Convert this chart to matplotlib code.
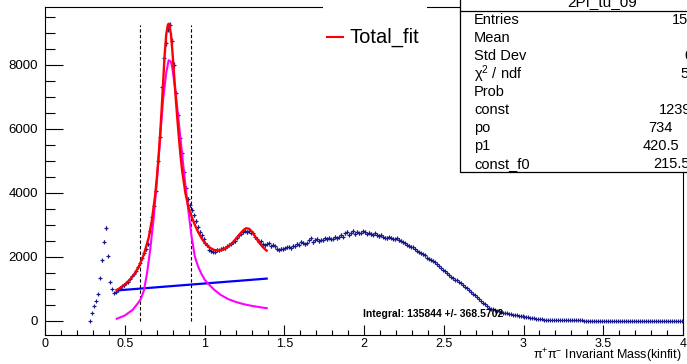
import numpy as np
import matplotlib
matplotlib.use("Agg")
import matplotlib.pyplot as plt
from matplotlib.patches import Rectangle
from matplotlib.lines import Line2D

plt.rcParams['font.family'] = ['Liberation Sans', 'DejaVu Sans']
plt.rcParams['mathtext.fontset'] = 'custom'
plt.rcParams['mathtext.rm'] = 'Liberation Sans'
plt.rcParams['mathtext.it'] = 'Liberation Sans'

# ---------------- data ----------------
bin_first_edge = 0.275
bin_width = 0.0125
counts = [
    10, 260, 470, 640, 850, 1350, 1900, 2480, 2900, 2030,
    1230, 1000, 880, 920, 960, 1030, 1080, 1110, 1180, 1230,
    1320, 1400, 1480, 1560, 1700, 1820, 1960, 2120, 2250, 2400,
    2800, 3250, 3600, 4050, 5000, 5750, 7300, 8220, 8700, 9130,
    9260, 8750, 7990, 7110, 6440, 5710, 5240, 4650, 4150, 3800,
    3620, 3470, 3300, 3120, 2950, 2790, 2680, 2560, 2430, 2360,
    2220, 2180, 2160, 2170, 2230, 2210, 2250, 2280, 2270, 2330,
    2380, 2420, 2470, 2500, 2600, 2690, 2730, 2790, 2820, 2780,
    2800, 2760, 2740, 2620, 2570, 2480, 2490, 2400, 2370, 2410,
    2430, 2340, 2380, 2330, 2250, 2220, 2260, 2250, 2270, 2300,
    2320, 2280, 2350, 2330, 2420, 2380, 2480, 2440, 2400, 2430,
    2520, 2580, 2460, 2530, 2560, 2500, 2540, 2520, 2580, 2560,
    2600, 2550, 2570, 2630, 2580, 2620, 2690, 2640, 2740, 2790,
    2700, 2760, 2810, 2720, 2790, 2740, 2760, 2800, 2780, 2730,
    2760, 2720, 2700, 2740, 2690, 2660, 2690, 2640, 2600, 2590,
    2620, 2600, 2570, 2550, 2580, 2530, 2510, 2460, 2430, 2380,
    2350, 2320, 2300, 2260, 2190, 2150, 2120, 2080, 2050, 1980,
    1950, 1920, 1880, 1830, 1770, 1720, 1660, 1600, 1550, 1490,
    1430, 1380, 1330, 1290, 1270, 1220, 1180, 1120, 1070, 1020,
    980, 900, 850, 800, 760, 700, 610, 560, 520, 480,
    420, 390, 360, 330, 310, 300, 280, 260, 250, 240,
    225, 210, 200, 195, 185, 170, 160, 150, 140, 125,
    115, 100, 90, 80, 72, 65, 58, 52, 46, 42,
    38, 35, 32, 30, 28, 26, 25, 24, 22, 21,
    20, 20, 19, 18, 18, 17, 16, 16, 15, 15,
    14, 14, 13, 13, 12, 12, 12, 11, 11, 10,
    10, 10, 9, 9, 9, 8, 8, 8, 7, 7,
    7, 7, 6, 6, 6, 6, 5, 5, 5, 5,
    4, 4, 4, 4, 4, 3, 3, 3, 3, 3,
    3, 2, 2, 2, 2, 2, 2, 1,
]

# total fit (red)
fit_x = [0.45, 0.47, 0.50, 0.53, 0.56, 0.59, 0.62, 0.65, 0.67, 0.69, 0.70,
         0.71, 0.72, 0.73, 0.74, 0.75, 0.76, 0.77, 0.775, 0.78, 0.79, 0.80,
         0.81, 0.82, 0.83, 0.84, 0.85, 0.86, 0.88, 0.90, 0.92, 0.94, 0.96,
         0.98, 1.00, 1.03, 1.06, 1.09, 1.12, 1.15, 1.18, 1.21, 1.24, 1.26,
         1.28, 1.30, 1.32, 1.34, 1.36, 1.38, 1.39]
fit_total = [970, 1030, 1140, 1280, 1460, 1720, 2080, 2600, 3150, 3900, 4400,
             5000, 5700, 6500, 7400, 8300, 8950, 9250, 9290, 9250, 8950, 8350,
             7650, 6950, 6300, 5700, 5150, 4700, 4000, 3550, 3250, 3000, 2780,
             2600, 2450, 2300, 2220, 2200, 2240, 2330, 2470, 2650, 2820, 2900,
             2880, 2780, 2620, 2470, 2340, 2240, 2200]

# signal component (magenta)
sig_x = [0.45, 0.50, 0.55, 0.58, 0.60, 0.62, 0.64, 0.66, 0.68, 0.70, 0.72,
         0.74, 0.76, 0.775, 0.79, 0.80, 0.82, 0.84, 0.86, 0.88, 0.90, 0.92,
         0.94, 0.96, 0.98, 1.00, 1.02, 1.06, 1.10, 1.15, 1.20, 1.25, 1.30,
         1.35, 1.39]
sig_y = [70, 170, 350, 540, 680, 950, 1500, 2250, 3150, 4300, 5600,
         6900, 7750, 8150, 8100, 7850, 7100, 6150, 5200, 4250, 3400, 2600,
         2000, 1700, 1480, 1300, 1180, 980, 820, 680, 590, 520, 470,
         430, 400]

# linear background (blue)
bkg_x = [0.45, 1.39]
bkg_y = [955, 1325]

# integration window (dashed)
window_x = [0.596, 0.918]
window_top = 9250

stats_labels = ["Entries", "Mean", "Std Dev", r"$\mathrm{\chi^{2}}$ / ndf", "Prob",
                "const", "po", "p1", "const_f0"]
stats_values = ["15", "", "0", "5", "", "1239", "734", "420.5", "215.5"]

# ---------------- figure ----------------
W, H = 687, 364
fig = plt.figure(figsize=(W / 100, H / 100), dpi=100)

def fx(px):
    return px / W

def fy(py):
    return 1 - py / H

ax_l, ax_r, ax_t, ax_b = 45, 683, 7, 335
ax = fig.add_axes([fx(ax_l), fy(ax_b), (ax_r - ax_l) / W, (ax_b - ax_t) / H])

counts_arr = np.array(counts, dtype=float)
centers = bin_first_edge + bin_width * (np.arange(len(counts)) + 0.5)
navy = '#1a1a8f'
ax.errorbar(centers, counts_arr, xerr=bin_width / 2, yerr=np.sqrt(counts_arr),
            fmt='+', ms=3, mew=0.8, color=navy, ecolor=navy, elinewidth=0.9, zorder=3)

ax.plot(bkg_x, bkg_y, color='#0000ff', lw=1.6, zorder=4)
ax.plot(sig_x, sig_y, color='#ff00ff', lw=1.5, zorder=4)
ax.plot(fit_x, fit_total, color='#ff0000', lw=1.7, zorder=5)
for xv in window_x:
    ax.plot([xv, xv], [0, window_top], color='black', lw=0.8, ls=(0, (3, 2)), zorder=2)

ax.set_xlim(0, 4)
ax.set_ylim(-437.5, 9812)
ax.set_xticks(np.arange(0, 4.01, 0.5))
ax.set_xticklabels(['0', '0.5', '1', '1.5', '2', '2.5', '3', '3.5', '4'])
ax.set_xticks(np.arange(0, 4.001, 0.1), minor=True)
ax.set_yticks([0, 2000, 4000, 6000, 8000])
ax.set_yticks(np.arange(0, 9801, 500), minor=True)
ax.tick_params(axis='both', which='both', direction='in', top=False, right=False,
               labelsize=9.5, width=0.8, color='black')
ax.tick_params(axis='x', which='major', labelsize=9)
ax.tick_params(axis='y', which='major', length=13, pad=5)
ax.tick_params(axis='y', which='minor', length=7)
ax.tick_params(axis='x', which='major', length=7, pad=2)
ax.tick_params(axis='x', which='minor', length=3.6)
for s in ax.spines.values():
    s.set_linewidth(0.8)

fig.text(fx(363), fy(314), "Integral: 135844 +/- 368.5702", fontsize=7.5,
         fontweight='bold', ha='left', va='center', zorder=10)
fig.text(fx(681), fy(356), r"$\mathrm{\pi^{+}\pi^{-}}$ Invariant Mass(kinfit)", fontsize=9,
         ha='right', va='center')

# legend box (white, no border) covering the frame top
fig.patches.append(Rectangle((fx(323), fy(60)), (427 - 323) / W, 60 / H,
                             transform=fig.transFigure, facecolor='white',
                             edgecolor='none', zorder=20))
fig.lines.append(Line2D([fx(327), fx(343)], [fy(37), fy(37)], transform=fig.transFigure,
                        color='#ff0000', lw=1.5, zorder=21))
fig.text(fx(349), fy(37), "Total_fit", fontsize=14.5, ha='left', va='center', zorder=22)

# stats box
fig.patches.append(Rectangle((fx(460), fy(172)), (W + 5 - 460) / W, (172 + 5) / H,
                             transform=fig.transFigure, facecolor='white',
                             edgecolor='black', lw=0.9, zorder=20))
fig.lines.append(Line2D([fx(460), fx(W + 5)], [fy(11), fy(11)], transform=fig.transFigure,
                        color='black', lw=0.9, zorder=21))
fig.text(fx(602), fy(2), "2PI_tu_09", fontsize=11, ha='center', va='center', zorder=22)
row_y = [20, 38, 56, 74, 92, 110, 128, 146, 164]
val_x = [672, 700, 684, 680, 700, 659, 648, 643, 653]
for lab, val, yy, vx in zip(stats_labels, stats_values, row_y, val_x):
    fig.text(fx(474), fy(yy), lab, fontsize=10.5, ha='left', va='center', zorder=22)
    if val:
        fig.text(fx(vx), fy(yy), val, fontsize=10.5, ha='left', va='center', zorder=22)

fig.savefig("out.png", dpi=100)
